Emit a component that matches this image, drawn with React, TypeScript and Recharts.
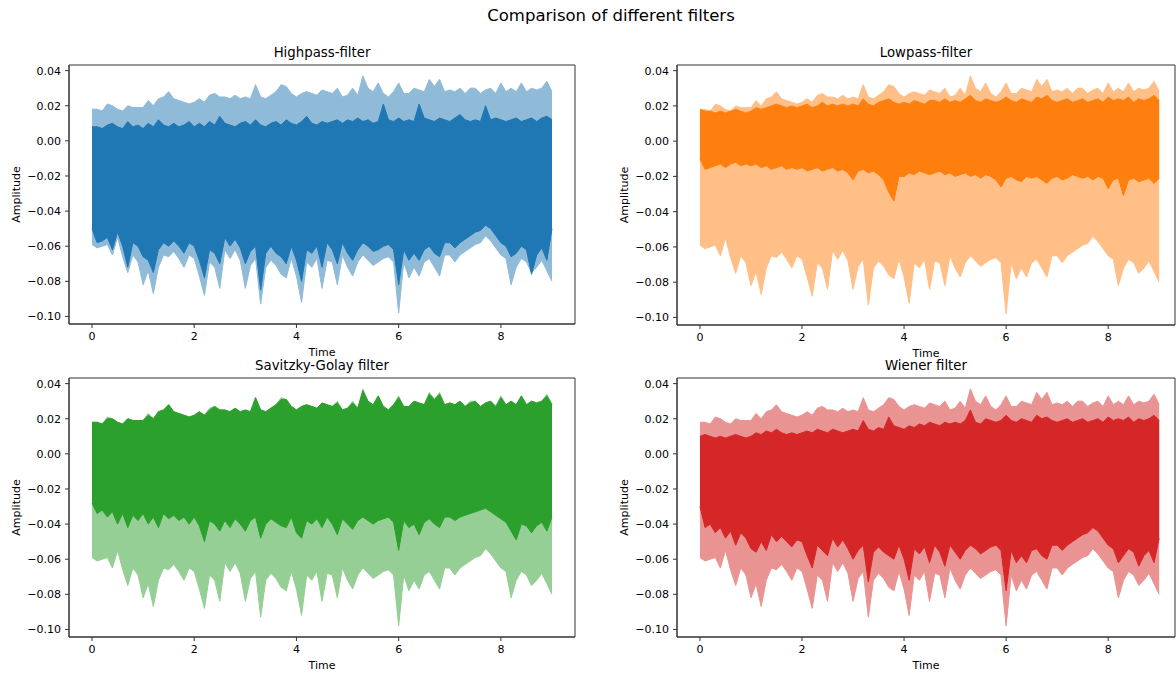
import React from 'react';
import { Area, ComposedChart, ReferenceArea, XAxis, YAxis } from 'recharts';

// Envelopes (upper / lower extent) of every trace per 0.1 s window, 0 .. 9 s.
// Values are amplitudes in units of 1e-3.
const RAW_TOP = [
  18, 18, 17, 21, 20, 18, 17, 20, 19, 19,
  19, 23, 20, 24, 25, 28, 24, 23, 22, 21,
  22, 24, 22, 26, 27, 25, 25, 24, 26, 24,
  25, 24, 32, 25, 24, 26, 28, 32, 31, 27,
  25, 27, 28, 27, 26, 29, 28, 27, 30, 25,
  26, 30, 26, 37, 30, 28, 33, 27, 25, 28,
  33, 27, 27, 30, 29, 28, 35, 31, 35, 28,
  29, 28, 30, 27, 30, 30, 27, 29, 30, 27,
  33, 28, 30, 28, 33, 28, 30, 29, 30, 34,
  28,
];
const RAW_BOTTOM = [
  -59, -61, -60, -59, -65, -55, -66, -75, -65, -69,
  -82, -74, -87, -72, -65, -66, -63, -67, -72, -65,
  -67, -77, -88, -69, -72, -84, -62, -67, -62, -68,
  -84, -71, -67, -93, -72, -68, -71, -76, -78, -67,
  -77, -92, -69, -72, -67, -84, -68, -69, -82, -65,
  -72, -77, -69, -65, -68, -71, -69, -67, -66, -69,
  -98, -69, -78, -72, -77, -69, -67, -72, -77, -65,
  -65, -69, -65, -63, -61, -59, -58, -54, -57, -61,
  -65, -67, -82, -72, -67, -69, -75, -72, -68, -74,
  -80,
];

const HIGHPASS_TOP = [
  8, 8, 7, 9, 10, 8, 7, 11, 8, 9,
  7, 10, 8, 12, 9, 8, 10, 8, 9, 11,
  8, 10, 8, 11, 9, 14, 10, 9, 8, 10,
  11, 9, 12, 9, 8, 10, 11, 9, 12, 10,
  9, 11, 14, 10, 9, 11, 10, 11, 12, 10,
  12, 11, 13, 11, 12, 10, 11, 21, 12, 11,
  13, 11, 12, 11, 21, 13, 12, 11, 13, 12,
  11, 13, 15, 12, 11, 12, 11, 20, 12, 13,
  12, 11, 12, 13, 11, 12, 13, 11, 13, 14,
  12,
];
const HIGHPASS_BOTTOM = [
  -50, -58, -57, -55, -62, -52, -60, -72, -58, -60,
  -66, -68, -75, -62, -58, -60, -57, -60, -64, -58,
  -60, -68, -78, -62, -64, -70, -55, -60, -56, -61,
  -70, -63, -60, -85, -64, -60, -64, -66, -70, -60,
  -68, -80, -62, -64, -60, -72, -58, -62, -70, -58,
  -64, -68, -62, -58, -60, -63, -62, -60, -59, -62,
  -82, -62, -68, -64, -68, -62, -60, -64, -66, -58,
  -58, -61, -58, -56, -54, -52, -51, -48, -50, -54,
  -58, -60, -66, -64, -60, -62, -76, -65, -61, -68,
  -50,
];

const LOWPASS_TOP = [
  18, 17, 17, 16, 17, 16, 17, 18, 17, 16,
  17, 19, 18, 19, 20, 21, 20, 19, 20, 19,
  20, 21, 19, 20, 22, 20, 21, 20, 21, 20,
  21, 20, 24, 21, 20, 22, 23, 24, 22, 21,
  22, 21, 23, 22, 21, 23, 23, 22, 24, 22,
  23, 22, 24, 26, 23, 22, 24, 23, 22, 23,
  25, 23, 22, 24, 23, 22, 25, 24, 26, 23,
  22, 23, 24, 22, 23, 24, 22, 23, 24, 22,
  25, 23, 24, 23, 25, 22, 24, 23, 24, 26,
  23,
];
const LOWPASS_BOTTOM = [
  -10, -16, -15, -14, -13, -15, -13, -12, -14, -13,
  -14, -13, -15, -14, -16, -15, -14, -16, -15, -16,
  -15, -17, -16, -15, -17, -16, -15, -17, -16, -18,
  -22, -17, -16, -18, -17, -19, -22, -29, -34, -20,
  -20, -18, -19, -17, -18, -19, -18, -17, -19, -18,
  -20, -19, -18, -20, -19, -21, -19, -20, -22, -26,
  -21, -20, -22, -23, -20, -21, -20, -22, -24, -21,
  -20, -22, -21, -19, -20, -21, -20, -22, -20, -21,
  -27, -22, -21, -31, -22, -21, -23, -22, -21, -24,
  -21,
];

const SAVGOL_TOP = [
  18, 18, 17, 20, 20, 18, 17, 20, 19, 19,
  19, 22, 20, 24, 25, 28, 24, 23, 22, 21,
  22, 24, 22, 25, 27, 25, 25, 24, 26, 24,
  25, 24, 32, 25, 24, 26, 28, 31, 31, 27,
  25, 27, 28, 27, 26, 29, 28, 27, 29, 25,
  26, 29, 26, 36, 30, 28, 33, 27, 25, 28,
  32, 27, 27, 30, 29, 28, 34, 31, 34, 28,
  29, 28, 30, 27, 29, 30, 27, 29, 30, 27,
  32, 28, 30, 28, 33, 28, 30, 29, 30, 33,
  28,
];
const SAVGOL_BOTTOM = [
  -28, -34, -32, -36, -33, -40, -34, -42, -35, -38,
  -34, -40, -36, -42, -34, -37, -35, -38, -36, -40,
  -36, -41, -50, -38, -40, -44, -38, -42, -37, -40,
  -44, -38, -36, -48, -40, -37, -39, -41, -42, -36,
  -45, -48, -38, -40, -37, -42, -36, -40, -46, -37,
  -40, -43, -38, -36, -38, -40, -38, -37, -36, -39,
  -55, -38, -42, -40, -46, -39, -37, -40, -42, -36,
  -36, -38, -36, -35, -34, -33, -32, -31, -33, -35,
  -37, -39, -44, -49, -40, -41, -45, -41, -39, -44,
  -36,
];

const WIENER_TOP = [
  10, 11, 10, 9, 10, 9, 10, 11, 10, 9,
  10, 12, 11, 13, 12, 14, 12, 11, 12, 11,
  12, 13, 12, 14, 13, 12, 14, 13, 12, 13,
  14, 13, 19, 14, 13, 15, 14, 21, 16, 15,
  14, 16, 15, 17, 16, 18, 17, 16, 18, 17,
  18, 17, 19, 25, 18, 17, 20, 19, 18, 19,
  22, 19, 18, 20, 19, 18, 22, 20, 21, 19,
  18, 19, 20, 18, 19, 20, 18, 19, 20, 18,
  21, 19, 20, 19, 21, 18, 20, 19, 20, 22,
  19,
];
const WIENER_BOTTOM = [
  -30, -42, -40, -45, -42, -48, -44, -52, -45, -48,
  -54, -56, -50, -55, -46, -50, -47, -50, -53, -49,
  -50, -58, -65, -52, -55, -58, -48, -53, -49, -54,
  -60, -55, -52, -73, -56, -53, -56, -58, -60, -52,
  -60, -72, -54, -57, -53, -62, -52, -56, -64, -52,
  -56, -60, -55, -52, -54, -57, -55, -53, -52, -55,
  -78, -55, -62, -58, -62, -55, -54, -58, -60, -52,
  -52, -55, -52, -50, -48, -46, -45, -42, -44, -48,
  -52, -54, -62, -58, -54, -56, -64, -58, -55, -62,
  -48,
];

const TIME_STEP = 0.1;
const X_TICKS = [0, 2, 4, 6, 8];
const Y_TICKS = [-0.1, -0.08, -0.06, -0.04, -0.02, 0, 0.02, 0.04];
const Y_DOMAIN: [number, number] = [-0.1043, 0.0432];
const X_MIN = -0.45;

const FONT = '"DejaVu Sans", sans-serif';
const AXIS_COLOR = '#333';

type Row = { time: number; raw: [number, number]; filtered: [number, number] };

function buildRows(filtTop: number[], filtBottom: number[]): Row[] {
  return RAW_TOP.map((top, i) => ({
    time: Math.round(i * TIME_STEP * 10) / 10,
    raw: [RAW_BOTTOM[i] / 1000, top / 1000],
    filtered: [filtBottom[i] / 1000, filtTop[i] / 1000],
  }));
}

const fmtY = (v: number) => (v < 0 ? '\u2212' : '') + Math.abs(v).toFixed(2);

type PanelProps = {
  title: string;
  rows: Row[];
  color: string;
  light: string;
  x: number;
  y: number;
  w: number;
  h: number;
  xMax: number;
};

function Panel({ title, rows, color, light, x, y, w, h, xMax }: PanelProps) {
  const yAxisW = 69;
  const tick = { fontSize: 11, fill: '#000', fontFamily: FONT };
  return (
    <>
      <div
        style={{
          position: 'absolute',
          left: x,
          top: y - 20,
          width: w,
          height: 16,
          lineHeight: '16px',
          textAlign: 'center',
          fontSize: 13.3,
          color: '#000',
        }}
      >
        {title}
      </div>
      <div style={{ position: 'absolute', left: x - yAxisW, top: y - 5 }}>
        <ComposedChart
          width={yAxisW + w + 5}
          height={5 + h + 40}
          data={rows}
          margin={{ top: 5, right: 5, bottom: 0, left: 0 }}
        >
          <XAxis
            dataKey="time"
            type="number"
            domain={[X_MIN, xMax]}
            ticks={X_TICKS}
            allowDataOverflow
            height={40}
            tickSize={4}
            tickMargin={4}
            tick={tick}
            tickLine={{ stroke: AXIS_COLOR }}
            axisLine={{ stroke: AXIS_COLOR }}
            label={{
              value: 'Time',
              position: 'insideBottom',
              offset: 8,
              style: { fontSize: 11, fill: '#000', fontFamily: FONT },
            }}
          />
          <YAxis
            type="number"
            domain={Y_DOMAIN}
            ticks={Y_TICKS}
            allowDataOverflow
            width={yAxisW}
            tickSize={4}
            tickMargin={4}
            tick={tick}
            tickFormatter={fmtY}
            tickLine={{ stroke: AXIS_COLOR }}
            axisLine={{ stroke: AXIS_COLOR }}
            label={{
              value: 'Amplitude',
              angle: -90,
              position: 'insideLeft',
              offset: 16,
              style: { fontSize: 11, fill: '#000', fontFamily: FONT, textAnchor: 'middle' },
            }}
          />
          <Area
            dataKey="raw"
            type="linear"
            fill={light}
            fillOpacity={1}
            stroke={light}
            strokeWidth={1}
            dot={false}
            activeDot={false}
            isAnimationActive={false}
          />
          <Area
            dataKey="filtered"
            type="linear"
            fill={color}
            fillOpacity={1}
            stroke={color}
            strokeWidth={1}
            dot={false}
            activeDot={false}
            isAnimationActive={false}
          />
          <ReferenceArea
            x1={X_MIN}
            x2={xMax}
            y1={Y_DOMAIN[0]}
            y2={Y_DOMAIN[1]}
            fill="none"
            stroke={AXIS_COLOR}
            strokeWidth={1}
            ifOverflow="visible"
          />
        </ComposedChart>
      </div>
    </>
  );
}

export default function App() {
  return (
    <div
      style={{
        position: 'absolute',
        left: 0,
        top: 0,
        width: 1176,
        height: 673,
        overflow: 'hidden',
        background: '#fff',
        fontFamily: FONT,
      }}
    >
      <div
        style={{
          position: 'absolute',
          left: 411,
          top: 6,
          width: 400,
          textAlign: 'center',
          fontSize: 16.5,
          lineHeight: '20px',
          color: '#000',
        }}
      >
        Comparison of different filters
      </div>
      <Panel
        title="Highpass-filter"
        rows={buildRows(HIGHPASS_TOP, HIGHPASS_BOTTOM)}
        color="#1f77b4"
        light="#8fbbd9"
        x={69}
        y={65}
        w={506}
        h={259}
        xMax={9.45}
      />
      <Panel
        title="Lowpass-filter"
        rows={buildRows(LOWPASS_TOP, LOWPASS_BOTTOM)}
        color="#ff7f0e"
        light="#ffbf87"
        x={677}
        y={65}
        w={498}
        h={260}
        xMax={9.31}
      />
      <Panel
        title="Savitzky-Golay filter"
        rows={buildRows(SAVGOL_TOP, SAVGOL_BOTTOM)}
        color="#2ca02c"
        light="#95cf95"
        x={69}
        y={378}
        w={506}
        h={259}
        xMax={9.45}
      />
      <Panel
        title="Wiener filter"
        rows={buildRows(WIENER_TOP, WIENER_BOTTOM)}
        color="#d62728"
        light="#ea9393"
        x={677}
        y={378}
        w={498}
        h={259}
        xMax={9.31}
      />
    </div>
  );
}
